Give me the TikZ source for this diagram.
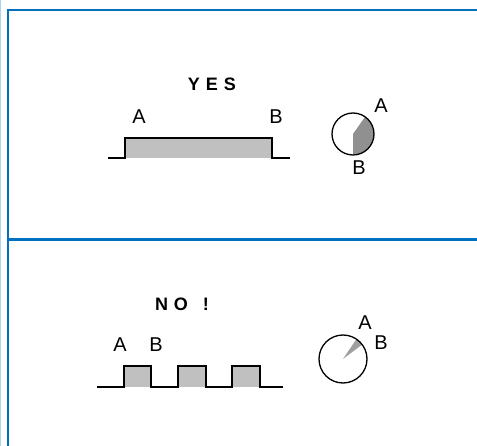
\documentclass[tikz,border=0pt]{standalone}
\usepackage{fontspec}
\setmainfont{Liberation Sans}
\definecolor{frameblue}{HTML}{0070C0}
\definecolor{lightblue}{HTML}{A8D4F0}
\definecolor{pulsegray}{HTML}{C0C0C0}
\definecolor{sectorgray}{HTML}{909090}
\definecolor{sectorlight}{HTML}{A0A0A0}
\begin{document}
\begin{tikzpicture}[x=1pt,y=-1pt,
  frame/.style={draw=frameblue,line width=2.2pt},
  wave/.style={draw=black,line width=1.8pt},
  lbl/.style={inner sep=0pt,font=\fontsize{20}{24}\selectfont},
  title/.style={inner sep=0pt,font=\fontsize{18}{22}\selectfont\bfseries}]
\useasboundingbox (0,0) rectangle (477,446);
\fill[white] (0,0) rectangle (477,446);
% frame
\draw[lightblue,line width=1.2pt] (0.6,0) -- (0.6,446);
\draw[frame] (8,446) -- (8,10) -- (477,10);
\draw[frame] (8,239.5) -- (477,239.5);
% ---- top panel ----
\node[title] (yes) at (212,84) {Y\,\,E\,\,S};
\node[lbl] (ta) at (139,117) {A};
\node[lbl] (tb) at (276,117) {B};
\fill[pulsegray] (125,138) rectangle (271,158);
\draw[wave] (108,158) -- (125,158) -- (125,138) -- (272,138) -- (272,158) -- (290,158);
% top dial
\coordinate (c1) at (353,134);
\fill[sectorgray] (c1) -- ++(90:21) arc[start angle=90,end angle=-55,radius=21] -- cycle;
\draw[line width=1.3pt] (c1) circle[radius=21];
\node[lbl] (da) at (381,106) {A};
\node[lbl] (db) at (359,168) {B};
% ---- bottom panel ----
\node[title] (no) at (182,304) {N\,\,O\ \ \ !};
\node[lbl] (ba) at (120,345) {A};
\node[lbl] (bb) at (156,345) {B};
\fill[pulsegray] (124,366) rectangle (151,387);
\fill[pulsegray] (178,366) rectangle (206,387);
\fill[pulsegray] (232,366) rectangle (260,387);
\draw[wave] (97,387) -- (124,387) -- (124,366) -- (151,366) -- (151,387)
  -- (178,387) -- (178,366) -- (206,366) -- (206,387)
  -- (232,387) -- (232,366) -- (260,366) -- (260,387) -- (283,387);
% bottom dial
\coordinate (c2) at (343,359);
\fill[sectorlight] (c2) -- ++(-37:24) arc[start angle=-37,end angle=-56,radius=24] -- cycle;
\draw[line width=1.3pt] (c2) circle[radius=24];
\node[lbl] (ea) at (365,323) {A};
\node[lbl] (eb) at (381,343) {B};
\end{tikzpicture}
\end{document}
